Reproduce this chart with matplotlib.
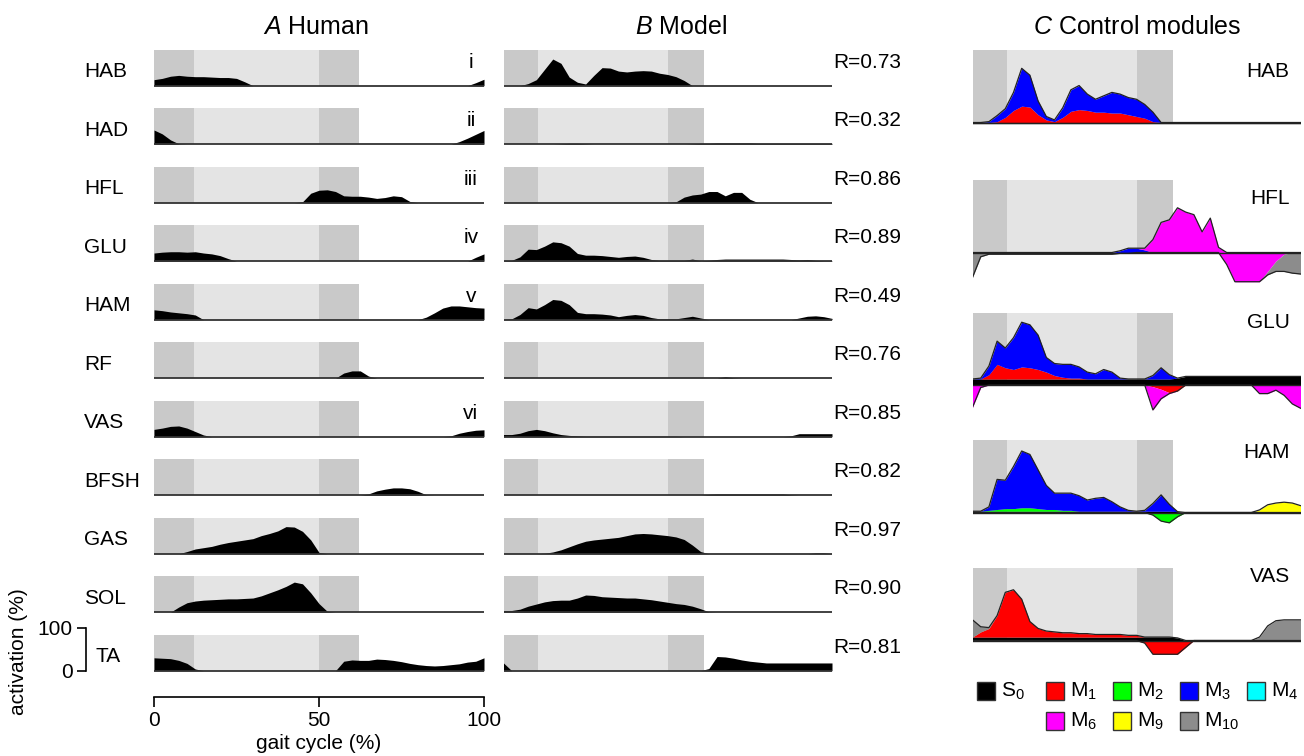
import numpy as np
import matplotlib
matplotlib.use('Agg')
import matplotlib.pyplot as plt
from matplotlib.patches import Rectangle

plt.rcParams['font.family'] = ['Liberation Sans', 'DejaVu Sans']
plt.rcParams['mathtext.fontset'] = 'custom'
plt.rcParams['mathtext.rm'] = 'Liberation Sans'
plt.rcParams['mathtext.it'] = 'Liberation Sans:italic'
plt.rcParams['mathtext.bf'] = 'Liberation Sans:bold'

# ---------------- data ----------------
gait = np.arange(0, 100.01, 2.5)   # gait cycle (%) sample positions (41)

muscles = ['HAB', 'HAD', 'HFL', 'GLU', 'HAM', 'RF', 'VAS', 'BFSH', 'GAS', 'SOL', 'TA']
r_values = ['0.73', '0.32', '0.86', '0.89', '0.49', '0.76', '0.85', '0.82', '0.97', '0.90', '0.81']
numerals = {'HAB': 'i', 'HAD': 'ii', 'HFL': 'iii', 'GLU': 'iv', 'HAM': 'v', 'VAS': 'vi'}

# Human EMG activation (%)
human_HAB = [14,17,22,24,22,21,21,20, 19,19,17,9,0,0,0,0, 0,0,0,0,0,0,0,0, 0,0,0,0,0,0,0,0, 0,0,0,0,0,0,0,7, 15]
human_HAD = [33,24,10,1,0,0,0,0, 0,0,0,0,0,0,0,0, 0,0,0,0,0,0,0,0, 0,0,0,0,0,0,0,0, 0,0,0,0,0,6,14,23, 32]
human_HFL = [0,0,0,0,0,0,0,0, 0,0,0,0,0,0,0,0, 0,0,2,22,29,30,26,16, 15,15,13,10,12,16,14,3, 0,0,0,0,0,0,0,0, 0]
human_GLU = [19,21,22,22,21,22,19,17, 13,6,0,0,0,0,0,0, 0,0,0,0,0,0,0,0, 0,0,0,0,0,0,0,0, 0,0,0,0,0,0,0,9, 17]
human_HAM = [23,21,18,16,14,11,0,0, 0,0,0,0,0,0,0,0, 0,0,0,0,0,0,0,0, 0,0,0,0,0,0,0,0, 0,6,16,27,32,32,30,28, 27]
human_RF = [0,0,0,0,0,0,0,0, 0,0,0,0,0,0,0,0, 0,0,0,0,0,0,0,12, 17,17,5,0,0,0,0,0, 0,0,0,0,0,0,0,0, 0]
human_VAS = [17,20,24,25,20,12,4,0, 0,0,0,0,0,0,0,0, 0,0,0,0,0,0,0,0, 0,0,0,0,0,0,0,0, 0,0,0,0,2,8,12,15, 16]
human_BFSH = [0,0,0,0,0,0,0,0, 0,0,0,0,0,0,0,0, 0,0,0,0,0,0,0,0, 0,0,3,10,14,17,17,15, 9,1,0,0,0,0,0,0, 0]
human_GAS = [0,0,0,0,5,11,14,17, 22,26,29,32,35,42,47,53, 63,62,52,32,3,0,0,0, 0,0,0,0,0,0,0,0, 0,0,0,0,0,0,0,0, 0]
human_SOL = [0,0,0,12,22,26,28,29, 30,31,31,32,33,38,45,52, 60,70,66,45,20,2,0,0, 0,0,0,0,0,0,0,0, 0,0,0,0,0,0,0,0, 0]
human_TA = [30,29,28,24,17,4,0,0, 0,0,0,0,0,0,0,0, 0,0,0,0,0,0,0,22, 25,24,24,27,26,24,21,17, 14,12,11,12,14,16,20,22, 30]

# Model activation (%)
model_HAB = [0,0,0,5,14,38,62,52, 20,8,4,24,42,41,34,32, 34,35,34,29,26,21,12,0, 0,0,0,0,0,0,0,0, 0,0,0,0,0,0,0,0, 0]
model_HAD = [0,0,0,0,0,0,0,1, 2,2,1,0,0,0,0,0, 0,0,0,0,0,0,0,1, 2,2,3,3,3,3,3,2, 2,2,2,2,2,2,2,2, 2]
model_HFL = [0,0,0,0,0,0,0,0, 0,0,0,0,0,0,0,0, 0,0,0,0,0,2,13,18, 20,26,26,16,24,24,8,0, 0,0,0,0,0,0,0,0, 0]
model_GLU = [1,2,10,28,27,35,45,43, 35,18,14,14,13,11,9,11, 12,9,4,2,2,2,2,5, 1,2,4,5,5,5,5,5, 5,5,5,4,3,4,2,1, 1]
model_HAM = [1,2,12,28,25,35,47,45, 35,17,14,14,13,11,7,10, 12,10,5,2,2,2,5,8, 4,0,0,0,0,0,0,0, 0,0,0,0,4,8,9,7, 3]
model_RF = [0,0,0,0,0,0,0,0, 0,0,0,0,0,0,0,0, 0,0,0,0,0,0,0,0, 0,0,0,4,1,0,0,0, 0,0,0,0,0,0,0,0, 0]
model_VAS = [5,5,8,14,17,14,9,5, 3,2,1,1,1,1,1,1, 1,1,1,1,1,1,0,0, 0,0,0,0,0,0,0,0, 0,0,0,2,7,7,7,7, 7]
model_BFSH = [0,0,0,0,0,0,0,0, 0,0,0,0,0,0,0,0, 0,0,0,0,0,0,0,0, 0,2,3,3,3,3,3,3, 3,3,3,1,0,0,0,0, 0]
model_GAS = [0,0,0,0,0,1,4,9, 16,23,29,32,34,36,38,42, 46,47,46,44,42,39,33,20, 5,0,0,0,0,0,0,0, 0,0,0,0,0,0,2,2, 0]
model_SOL = [4,4,7,14,19,24,27,28, 28,33,40,39,36,35,34,33, 33,31,29,26,23,20,18,14, 8,1,0,0,0,0,0,0, 0,0,0,0,0,0,0,0, 0]
model_TA = [18,0,0,0,0,0,0,0, 0,0,0,0,0,0,0,0, 0,0,0,0,0,0,0,0, 0,5,33,32,29,25,22,20, 18,18,18,18,18,18,18,18, 18]

human = [human_HAB, human_HAD, human_HFL, human_GLU, human_HAM, human_RF,
         human_VAS, human_BFSH, human_GAS, human_SOL, human_TA]
model = [model_HAB, model_HAD, model_HFL, model_GLU, model_HAM, model_RF,
         model_VAS, model_BFSH, model_GAS, model_SOL, model_TA]

# Control module contributions (signed, %)
ctrl_HAB_M1 = [0,0,0,1,6,14,19,18, 9,3,1,6,13,15,14,12, 12,11,11,9,7,5,1,0, 0,0,0,0,0,0,0,0, 0,0,0,0,0,0,0,0, 0]
ctrl_HAB_M3 = [0,0,1,7,10,21,44,37, 16,4,2,11,25,28,19,15, 19,24,22,20,20,16,11,0, 0,0,0,0,0,0,0,0, 0,0,0,0,0,0,0,0, 0]

ctrl_HFL_M3 = [0,0,0,0,0,0,0,0, 0,0,0,0,0,0,0,0, 0,0,2,5,5,3,0,0, 0,0,0,0,0,0,0,0, 0,0,0,0,0,0,0,0, 0]
ctrl_HFL_M6 = [0,0,0,0,0,0,0,0, 0,0,0,0,0,0,0,0, 0,0,0,0,0,2,15,35, 38,52,47,44,24,40,6,-14, -34,-34,-34,-34,-22,-10,-2,0, 0]
ctrl_HFL_M10 = [-29,-5,-2,-2,-2,-2,-2,-2, -2,-2,-2,-2,-2,-2,-2,-2, -2,-2,-1,-1,0,0,0,0, 0,0,0,0,0,0,0,0, 0,0,0,0,-4,-12,-20,-24, -25]

ctrl_GLU_S0 = [7,7,7,7,7,7,7,7, 7,7,7,7,7,7,7,7, 7,7,7,7,7,7,7,7, 7,8,10,10,10,10,10,10, 10,10,10,10,10,10,10,10, 10]
ctrl_GLU_M1 = [0,0,5,17,13,11,14,13, 11,8,4,2,1,1,0,0, 0,0,0,0,0,0,-2,-5, -9,-7,0,0,0,0,0,0, 0,0,0,0,0,0,0,0, 0]
ctrl_GLU_M3 = [0,1,10,27,23,37,52,50, 40,17,14,15,16,13,8,6, 11,8,1,0,0,0,4,13, 5,0,0,0,0,0,0,0, 0,0,0,0,0,0,0,0, 0]
ctrl_GLU_M6 = [-26,-3,0,0,0,0,0,0, 0,0,0,0,0,0,0,0, 0,0,0,0,0,0,-27,-11, -1,0,0,0,0,0,0,0, 0,0,0,-10,-10,-6,-12,-22, -27]

ctrl_HAM_S0 = [1.5,1.5,1.5,1.5,1.5,1.5,1.5,1.5, 1.5,1.5,1.5,1.5,1.5,1.5,1.5,1.5, 1.5,1.5,1.5,1.5,1.5,1.5,1.5,1.5, 1.5,1,0,0,0,0,0,0, 0,0,0,0,0,0,0,0, 0]
ctrl_HAM_M2 = [0,0,1,2,3,3,4,4, 3,2,2,1,1,0,0,0, 0,0,0,0,0,0,-3,-10, -12,-5,0,0,0,0,0,0, 0,0,0,0,0,0,0,0, 0]
ctrl_HAM_M3 = [0,0,4,35,33,49,66,62, 45,28,19,20,20,18,13,15, 16,11,5,1,0,1,9,19, 8,0,0,0,0,0,0,0, 0,0,0,0,0,0,0,0, 0]
ctrl_HAM_M9 = [0,0,0,0,0,0,0,0, 0,0,0,0,0,0,0,0, 0,0,0,0,0,0,0,0, 0,0,0,0,0,0,0,0, 0,0,0,3,9,11,12,11, 8]

ctrl_VAS_S0 = [4,4,4,4,4,4,4,4, 4,4,4,4,4,4,4,4, 4,4,4,4,4,4,4,4, 4,3,0,0,0,0,0,0, 0,0,0,0,0,0,0,0, 0]
ctrl_VAS_M1 = [0,6,10,25,52,55,44,18, 10,7,6,5,5,4,4,3, 3,3,3,2,2,-3,-16,-16, -16,-16,-8,0,0,0,0,0, 0,0,0,0,0,0,0,0, 0]
ctrl_VAS_M10 = [20,6,1,0,0,0,0,0, 0,0,0,0,0,0,0,0, 0,0,0,0,0,0,0,0, 0,0,0,0,0,0,0,0, 0,0,0,4,17,23,24,24, 24]

modules = ['S0', 'M1', 'M2', 'M3', 'M4', 'M6', 'M9', 'M10']
module_colors = ['#000000', '#ff0000', '#00ff00', '#0000ff', '#00ffff', '#ff00ff', '#ffff00', '#8c8c8c']
module_labels = [r'$\mathrm{S}_{0}$', r'$\mathrm{M}_{1}$', r'$\mathrm{M}_{2}$', r'$\mathrm{M}_{3}$',
                 r'$\mathrm{M}_{4}$', r'$\mathrm{M}_{6}$', r'$\mathrm{M}_{9}$', r'$\mathrm{M}_{10}$']

ctrl_panels = [
    ('HAB', {'M1': ctrl_HAB_M1, 'M3': ctrl_HAB_M3}),
    ('HFL', {'M3': ctrl_HFL_M3, 'M6': ctrl_HFL_M6, 'M10': ctrl_HFL_M10}),
    ('GLU', {'S0': ctrl_GLU_S0, 'M1': ctrl_GLU_M1, 'M3': ctrl_GLU_M3, 'M6': ctrl_GLU_M6}),
    ('HAM', {'S0': ctrl_HAM_S0, 'M2': ctrl_HAM_M2, 'M3': ctrl_HAM_M3, 'M9': ctrl_HAM_M9}),
    ('VAS', {'S0': ctrl_VAS_S0, 'M1': ctrl_VAS_M1, 'M10': ctrl_VAS_M10}),
]

# ---------------- layout ----------------
W, H = 1304, 756
fig = plt.figure(figsize=(W / 100, H / 100), dpi=100)

DARK = '#c9c9c9'
LIGHT = '#e4e4e4'
SHADE_TOP = 84


def add_px_axes(left, top, width, height):
    ax = fig.add_axes([left / W, 1 - (top + height) / H, width / W, height / H])
    return ax


def shade(ax, phases):
    (d0, d1), (l0, l1), (e0, e1) = phases
    ax.fill_between([d0, d1], 0, SHADE_TOP, color=DARK, lw=0)
    ax.fill_between([l0, l1], 0, SHADE_TOP, color=LIGHT, lw=0)
    ax.fill_between([e0, e1], 0, SHADE_TOP, color=DARK, lw=0)


A_LEFT, A_W = 154, 330
B_LEFT, B_W = 503.5, 328.5
C_LEFT, C_W = 972.5, 328
phases_A = [(0, 12), (12, 50), (50, 62)]
phases_BC = [(0, 10.5), (10.5, 50), (50, 61)]
AB_SCALE = 0.43   # px per % unit
C_SCALE = 0.86
YLO, YHI = -5, 105

for i, name in enumerate(muscles):
    base = 85.7 + 58.5 * i
    top = base - YHI * AB_SCALE
    h = (YHI - YLO) * AB_SCALE
    for col, (left, w, data, ph) in enumerate([(A_LEFT, A_W, human, phases_A),
                                                (B_LEFT, B_W, model, phases_BC)]):
        ax = add_px_axes(left, top, w, h)
        ax.set_xlim(0, 100)
        ax.set_ylim(YLO, YHI)
        shade(ax, ph)
        ax.fill_between(gait, 0, data[i], color='black', lw=0)
        ax.plot([0, 100], [0, 0], color='#333333', lw=1.3, solid_capstyle='butt')
        if col == 0:
            if name in numerals:
                ax.text(96, 55, numerals[name], ha='center', va='center', fontsize=15)
            if name == 'TA':
                for s in ['top', 'right', 'bottom']:
                    ax.spines[s].set_visible(False)
                ax.patch.set_visible(False)
                ax.spines['left'].set_position(('outward', (154 - 86) * 0.72))
                ax.spines['left'].set_bounds(0, 100)
                ax.spines['left'].set_linewidth(1.2)
                ax.set_yticks([0, 100])
                ax.set_xticks([])
                ax.tick_params(axis='y', length=6.5, width=1.2, labelsize=15, pad=3)
            else:
                ax.axis('off')
        else:
            ax.axis('off')
            ax.text(100.3, 54, 'R=' + r_values[i], ha='left', va='center',
                    fontsize=15, clip_on=False)
    fig.text((96 if name == 'TA' else 84) / W, 1 - (base - 14) / H, name,
             ha='left', va='center', fontsize=15)

# x axis under column A
axX = add_px_axes(A_LEFT, 690, A_W, 7)
axX.set_xlim(0, 100)
for s in ['top', 'right', 'left']:
    axX.spines[s].set_visible(False)
axX.spines['bottom'].set_bounds(0, 100)
axX.spines['bottom'].set_linewidth(1.2)
axX.patch.set_visible(False)
axX.set_yticks([])
axX.set_xticks([0, 50, 100])
axX.tick_params(axis='x', length=7, width=1.2, labelsize=15, pad=3)
axX.set_xlabel('gait cycle (%)', fontsize=15, labelpad=3)

fig.text(19 / W, 1 - 652 / H, 'activation (%)', rotation=90, ha='center', va='center', fontsize=15)

# column titles
fig.text(316 / W, 1 - 27 / H, r'$\mathit{A}$ Human', ha='center', va='center', fontsize=18)
fig.text(681 / W, 1 - 27 / H, r'$\mathit{B}$ Model', ha='center', va='center', fontsize=18)
fig.text(1137 / W, 1 - 27 / H, r'$\mathit{C}$ Control modules', ha='center', va='center', fontsize=18)

# control module panels
c_bases = [122.5, 252.5, 385, 512.5, 640.5]
c_label_y = [59, 63, 73, 70, 74]
CYLO, CYHI = -40, 90
for (name, comps), base, ly in zip(ctrl_panels, c_bases, c_label_y):
    ax = add_px_axes(C_LEFT, base - CYHI * C_SCALE, C_W, (CYHI - CYLO) * C_SCALE)
    ax.set_xlim(0, 100)
    ax.set_ylim(CYLO, CYHI)
    ax.axis('off')
    shade(ax, phases_BC)
    pos = np.zeros(len(gait))
    neg = np.zeros(len(gait))
    for m, c in zip(modules, module_colors):
        if m not in comps:
            continue
        v = np.asarray(comps[m], dtype=float)
        p = np.clip(v, 0, None)
        n = np.clip(v, None, 0)
        if p.any():
            ax.fill_between(gait, pos, pos + p, color=c, lw=0)
            pos = pos + p
        if n.any():
            ax.fill_between(gait, neg + n, neg, color=c, lw=0)
            neg = neg + n
    ax.plot([0, 100], [0, 0], color='#222222', lw=1.0)
    ax.plot(gait, pos, color='#222222', lw=0.9)
    ax.plot(gait, neg, color='#222222', lw=0.9)
    ax.text(96.7, ly, name, ha='right', va='center', fontsize=15)

# legend for modules
axL = add_px_axes(960, 670, 344, 70)
axL.set_xlim(960, 1304)
axL.set_ylim(740, 670)
axL.axis('off')
legend_pos = [(977, 691), (1046, 691), (1113, 691), (1180, 691), (1247, 691),
              (1046, 721), (1113, 721), (1180, 721)]
for (x0, yc), c, lab in zip(legend_pos, module_colors, module_labels):
    axL.add_patch(Rectangle((x0, yc - 9), 18, 18, facecolor=c, edgecolor='#333333', lw=1))
    axL.text(x0 + 24, yc, lab, ha='left', va='center', fontsize=15)

fig.savefig('out.png', dpi=100)
